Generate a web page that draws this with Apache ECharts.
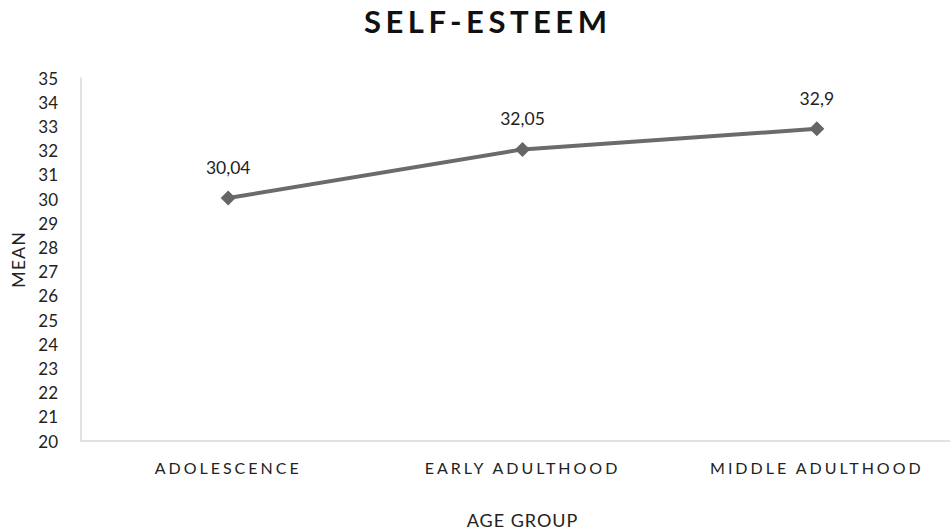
<!DOCTYPE html>
<html>
<head>
<meta charset="utf-8">
<script src="https://cdn.jsdelivr.net/npm/echarts@6/dist/echarts.min.js"></script>
<style>
  html, body { margin: 0; padding: 0; background: #fff; }
  #self-esteem { width: 950px; height: 530px; }
  /* spaced caps for category labels and title, like the original */
  #self-esteem text[style*="16px"] { letter-spacing: 3px; }
  #self-esteem text[style*="18px"] { letter-spacing: 1px; }
  #self-esteem text[style*="31px"] { letter-spacing: 4.5px; }
</style>
</head>
<body>
<div id="self-esteem"></div>
<script>
// 数据
var ageGroups = ['ADOLESCENCE', 'EARLY ADULTHOOD', 'MIDDLE ADULTHOOD'];
var meanValues = [30.04, 32.05, 32.9];
var meanLabels = ['30,04', '32,05', '32,9'];
var yMin = 20, yMax = 35, yStep = 1;

var myChart = echarts.init(document.getElementById('self-esteem'), null, { renderer: 'svg' });

var option = {
    animation: false,
    backgroundColor: '#fff',
    title: {
        text: 'SELF-ESTEEM',
        left: 359,
        top: 0,
        textStyle: { fontFamily: 'Lato', fontWeight: 'bold', fontSize: 31, color: '#111' }
    },
    grid: {
        left: 81,
        right: -14,   // the plot runs past the right edge in the original
        top: 78,
        bottom: 89,
        outerBoundsMode: 'none'
    },
    xAxis: {
        type: 'category',
        data: ageGroups,
        name: 'AGE GROUP',
        nameLocation: 'middle',
        nameGap: 70,
        nameTextStyle: { fontFamily: 'Lato', fontSize: 18, color: '#222' },
        axisLine: { lineStyle: { color: '#d9d9d9', width: 1.5 } },
        axisTick: { show: false },
        axisLabel: { fontFamily: 'Lato', fontSize: 16, color: '#222', margin: 18 },
        splitLine: { show: false }
    },
    yAxis: {
        type: 'value',
        min: yMin,
        max: yMax,
        interval: yStep,
        name: 'MEAN',
        nameLocation: 'middle',
        nameGap: 52,
        nameTextStyle: { fontFamily: 'Lato', fontSize: 18, color: '#222' },
        axisLine: { show: true, lineStyle: { color: '#d9d9d9', width: 1.5 } },
        axisTick: { show: false },
        axisLabel: { fontFamily: 'Lato', fontSize: 17, color: '#222', margin: 23 },
        splitLine: { show: false }
    },
    series: [{
        type: 'line',
        data: meanValues,
        symbol: 'diamond',
        symbolSize: 15,
        lineStyle: { color: '#6b6b6b', width: 4 },
        itemStyle: { color: '#666' },
        label: {
            show: true,
            position: 'top',
            distance: 14,
            fontFamily: 'Lato',
            fontSize: 17.5,
            color: '#222',
            formatter: function (p) { return meanLabels[p.dataIndex]; }
        }
    }]
};

myChart.setOption(option);
</script>
</body>
</html>
